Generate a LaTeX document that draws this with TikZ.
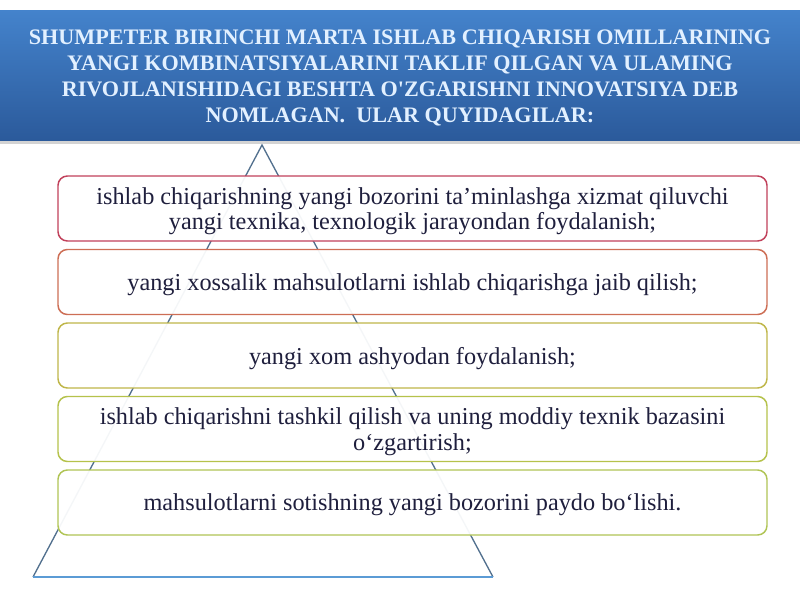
\documentclass[tikz,border=0pt]{standalone}
\usepackage{fontspec}
\setmainfont{Liberation Serif}
\newfontfamily\titlefont{Liberation Serif}
\usetikzlibrary{shadows}
\definecolor{barTop}{HTML}{4483CC}
\definecolor{barBot}{HTML}{2B5A9B}
\definecolor{titleText}{HTML}{E2F0FF}
\definecolor{bodyText}{HTML}{1F1F3D}
\definecolor{edgeGray}{HTML}{52708E}
\definecolor{baseBlue}{HTML}{5B9BD5}
\definecolor{boxA}{HTML}{C1415B}
\definecolor{boxB}{HTML}{CD6E55}
\definecolor{boxC}{HTML}{BFB649}
\definecolor{boxD}{HTML}{B5C24B}
\definecolor{boxE}{HTML}{B0C455}

\begin{document}
\begin{tikzpicture}[x=0.75pt,y=-0.75pt]
\tikzstyle{every node}=[font=\fontsize{18.2}{19}\selectfont]
\tikzstyle{stepbox}=[draw, line width=1.1pt, rounded corners=7pt, fill=white, fill opacity=0.94, text opacity=1, text=bodyText, align=center, minimum width=531.75pt, minimum height=48.75pt, inner sep=0pt, text depth=0pt]

	\useasboundingbox (0,0) rectangle (800,600);

	% title bar
	\path[top color=barTop, bottom color=barBot, drop shadow={shadow xshift=0pt, shadow yshift=-3pt, opacity=0.35}]
		(0,10) rectangle (800,140);
	\node[font=\titlefont\bfseries\fontsize{16.6}{19.5}\selectfont, text=titleText, align=center] (title) at (400,78)
		{SHUMPETER BIRINCHI MARTA ISHLAB CHIQARISH OMILLARINING\\
		YANGI KOMBINATSIYALARINI TAKLIF QILGAN VA ULAMING\\
		RIVOJLANISHIDAGI BESHTA O'ZGARISHNI INNOVATSIYA DEB\\
		NOMLAGAN.\ \ ULAR QUYIDAGILAR:};

	% pyramid behind the boxes
	\coordinate (apex) at (262,145);
	\coordinate (bl) at (33,577);
	\coordinate (br) at (493,577);
	\draw[edgeGray, line width=1pt] (bl) -- (apex) -- (br);
	\draw[baseBlue, line width=1.2pt] (bl) -- (br);

	\foreach \n/\yc/\col/\txt in {
		1/208.5/boxA/{ishlab chiqarishning yangi bozorini ta’minlashga xizmat qiluvchi\\ yangi texnika, texnologik jarayondan foydalanish;},
		2/282/boxB/{yangi xossalik mahsulotlarni ishlab chiqarishga jaib qilish;},
		3/355.5/boxC/{yangi xom ashyodan foydalanish;},
		4/429/boxD/{ishlab chiqarishni tashkil qilish va uning moddiy texnik bazasini\\ o‘zgartirish;},
		5/502.5/boxE/{mahsulotlarni sotishning yangi bozorini paydo bo‘lishi.}} {
		\node[stepbox, draw=\col] (b\n) at (412.5,\yc) {\txt};
	}
\end{tikzpicture}
\end{document}
